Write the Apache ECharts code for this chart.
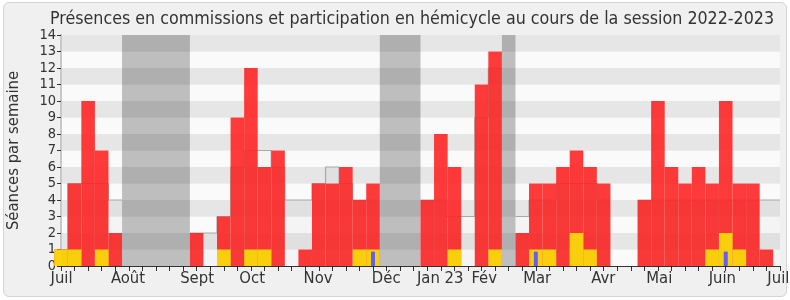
<!DOCTYPE html>
<html><head><meta charset="utf-8">
<script src="https://cdn.jsdelivr.net/npm/echarts@6/dist/echarts.min.js"></script>
<style>
html,body{margin:0;padding:0;background:#fff;}
#frame{position:absolute;left:3px;top:2px;width:782px;height:293px;border:1px solid #d4d4d4;border-radius:6px;background:#f0f0f0;}
#chart{position:absolute;left:0;top:0;width:790px;height:300px;}
</style></head><body>
<div id="frame"></div><div id="chart"></div>
<script>
const titleText = 'Présences en commissions et participation en hémicycle au cours de la session 2022-2023';
const yAxisTitle = 'Séances par semaine';
const monthLabels = ['Juil', 'Août', 'Sept', 'Oct', 'Nov', 'Déc', 'Jan 23', 'Fév', 'Mar', 'Avr', 'Mai', 'Juin', 'Juil'];
const monthPositions = [0.04, 4.94, 10.03, 14.09, 18.95, 23.97, 27.95, 31.2, 35.1, 39.97, 44.1, 48.75, 52.88];
const weekTicks = [0,1,2,3,4,5,6,7,8,9,10,11,12,13,14,15,16,17,18,19,20,21,22,23,24,25,26,27,28,29,30,31,32,33,34,35,36,37,38,39,40,41,42,43,44,45,46,47,48,49,50,51,52,53];
// hemicycle participation per week (red)
const hemicycle = [1,5,10,7,2,0,0,0,0,0,2,0,3,9,12,6,7,0,1,5,5,6,4,5,0,0,0,4,8,6,0,11,13,0,2,5,5,6,7,6,5,0,0,4,10,6,5,6,5,10,5,5,1,0];
// commission presence per week (yellow)
const commission = [1,1,0,1,0,0,0,0,0,0,0,0,1,0,1,1,0,0,0,0,0,0,1,1,0,0,0,0,0,1,0,0,1,0,0,1,1,0,2,1,0,0,0,0,0,0,0,0,1,2,1,0,0,0];
// oral questions per week (blue)
const questions = [0,0,0,0,0,0,0,0,0,0,0,0,0,0,0,0,0,0,0,0,0,0,0,0.87,0,0,0,0,0,0,0,0,0,0,0,0.87,0,0,0,0,0,0,0,0,0,0,0,0,0,0.87,0,0,0,0];
// average of all deputies (grey step line)
const average = [1,5,5,5,4,null,null,null,null,null,2,2,3,6,7,7,6,4,4,5,6,5,4,4,null,null,null,4,4,3,3,9,12,null,3,4,4,5,5,5,4,null,null,4,4,4,4,4,4,4,4,4,4,4];
// parliamentary holidays (week ranges)
const vacationStart = [4.5, 23.5, 32.5];
const vacationEnd = [9.5, 26.5, 33.5];

const FONT = '"DejaVu Sans Condensed", "DejaVu Sans", sans-serif';
const chart = echarts.init(document.getElementById('chart'), null, {renderer: 'canvas'});
const gridLeft = 61, gridRight = 10, gridTop = 35, gridBottom = 34;
const nWeeks = weekTicks.length - 1;
const bw = (790 - gridLeft - gridRight) / nWeeks;
const avgData = average.map((v, i) => [weekTicks[i], v]);

const option = {
  backgroundColor: 'transparent',
  animation: false,
  title: {
    text: titleText, left: 45, top: 5,
    textStyle: {fontFamily: FONT, fontSize: 17.7, fontWeight: 'normal', color: '#333'}
  },
  grid: {left: gridLeft, right: gridRight, top: gridTop, bottom: gridBottom, containLabel: false, outerBoundsMode: 'none'},
  xAxis: [{
    type: 'value', min: 0, max: nWeeks, position: 'bottom',
    axisLine: {show: true, lineStyle: {color: '#333', width: 1}},
    axisTick: {show: true, customValues: weekTicks, length: 5, lineStyle: {color: '#333'}},
    axisLabel: {show: true, customValues: monthPositions, margin: 4, fontFamily: FONT, fontSize: 16.5, color: '#333',
      formatter: function (v) {
        for (let i = 0; i < monthPositions.length; i++) if (Math.abs(monthPositions[i] - v) < 1e-6) return monthLabels[i];
        return '';
      }},
    splitLine: {show: false}
  }, {
    type: 'value', min: 0, max: nWeeks, position: 'top',
    axisLine: {show: false},
    axisTick: {show: true, inside: true, customValues: weekTicks, length: 2, lineStyle: {color: '#222'}},
    axisLabel: {show: false},
    splitLine: {show: false}
  }],
  yAxis: [{
    type: 'value', min: 0, max: 14, interval: 1, position: 'left',
    name: yAxisTitle, nameLocation: 'middle', nameGap: 39, nameRotate: 90,
    nameTextStyle: {fontFamily: FONT, fontSize: 16.5, color: '#333'},
    axisLine: {show: true, lineStyle: {color: '#333'}},
    axisTick: {show: true, length: 4, lineStyle: {color: '#333'}},
    axisLabel: {fontFamily: FONT, fontSize: 14.5, color: '#333', margin: 5},
    splitLine: {show: false},
    splitArea: {show: true, areaStyle: {color: ['#fafafa', '#e6e6e6']}}
  }, {
    type: 'value', min: 0, max: 14, interval: 1, position: 'right',
    axisLine: {show: true, lineStyle: {color: '#c8c8c8', width: 2}},
    axisTick: {show: false}, axisLabel: {show: false}, splitLine: {show: false}, splitArea: {show: false}
  }],
  series: [{
    type: 'line', data: [], z: 1, silent: true,
    markArea: {
      silent: true,
      itemStyle: {color: 'rgba(0,0,0,0.24)'},
      data: vacationStart.map((s, i) => [{xAxis: s}, {xAxis: vacationEnd[i]}])
    }
  }, {
    name: 'Moyenne', type: 'line', xAxisIndex: 0, yAxisIndex: 0, z: 1.5,
    step: 'middle', symbol: 'none', connectNulls: false, silent: true,
    lineStyle: {color: '#aaaaaa', width: 1.2},
    data: avgData
  }, {
    name: 'Hémicycle', type: 'bar', xAxisIndex: 0, yAxisIndex: 0, z: 2,
    barWidth: bw, barGap: '-100%',
    itemStyle: {color: 'rgb(255,41,41)', opacity: 0.92},
    data: hemicycle.map((v, i) => [weekTicks[i], v])
  }, {
    name: 'Commission', type: 'bar', xAxisIndex: 0, yAxisIndex: 0, z: 3,
    barWidth: bw, barGap: '-100%',
    itemStyle: {color: '#ffd30e'},
    data: commission.map((v, i) => [weekTicks[i], v])
  }, {
    name: 'Questions', type: 'bar', xAxisIndex: 1, yAxisIndex: 0, z: 4,
    barWidth: 4,
    itemStyle: {color: '#6464ff'},
    data: questions.map((v, i) => [weekTicks[i], v])
  }, {
    name: 'Moyenne (aire)', type: 'line', xAxisIndex: 0, yAxisIndex: 0, z: 5,
    step: 'middle', symbol: 'none', connectNulls: false, silent: true,
    lineStyle: {opacity: 0, width: 0},
    areaStyle: {color: 'rgba(0,0,0,0.035)'},
    data: avgData
  }]
};
chart.setOption(option);
</script>
</body></html>
